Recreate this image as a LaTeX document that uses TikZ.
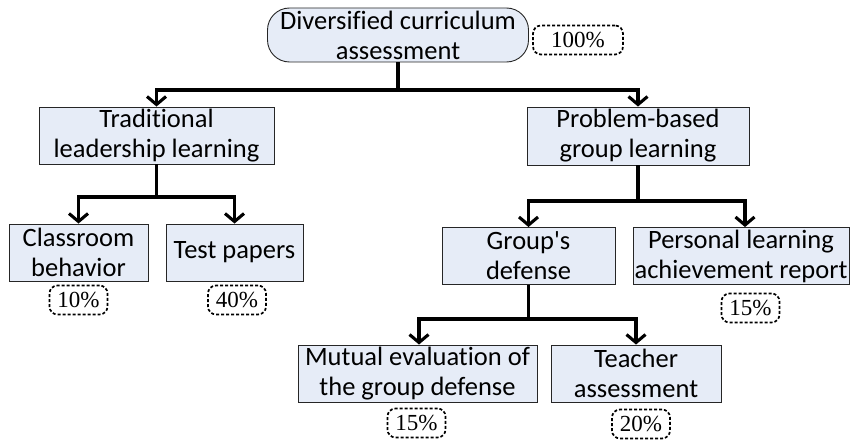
\documentclass[tikz,border=0pt]{standalone}
\usepackage{fontspec}
\setmainfont{Carlito}[Ligatures={NoCommon}]
\newfontfamily\pctfont{Liberation Serif}
\usetikzlibrary{arrows.meta}
\definecolor{boxfill}{HTML}{E6ECF7}
\begin{document}
\begin{tikzpicture}[x=1pt,y=-1pt,
  box/.style={draw=black!85, line width=0.9pt, fill=boxfill, align=center,
    inner sep=0pt, font=\fontsize{26.5}{30}\selectfont, minimum height=57pt},
  rootbox/.style={box, rounded corners=22pt, minimum width=261pt, minimum height=54pt},
  pct/.style={draw, dash pattern=on 3pt off 2pt, line width=1.7pt, rounded corners=8pt,
    minimum width=58pt, minimum height=29pt, inner sep=0pt,
    font=\pctfont\fontsize{23}{25}\selectfont},
  trunk/.style={line width=3.1pt},
  conn/.style={line width=3.1pt, -{Straight Barb[length=8pt,width=19pt]}}
]
\useasboundingbox (0,0) rectangle (851,441);

% nodes
\node[rootbox] (root) at (398,35) {Diversified curriculum\\assessment};
\node[pct, minimum width=90pt] (p100) at (578,40) {100\%};

\node[box, minimum width=235pt] (trad) at (156.5,135.5) {Traditional\\leadership learning};
\node[box, minimum width=222pt, minimum height=58pt] (prob) at (638,136) {Problem-based\\group learning};

\node[box, minimum width=139pt] (class) at (78.5,252.5) {Classroom\\behavior};
\node[box, minimum width=137pt] (test) at (234.5,252.5) {Test papers};
\node[pct] (p10) at (78.5,300) {10\%};
\node[pct] (p40) at (237,300) {40\%};

\node[box, minimum width=173pt] (group) at (528.5,256) {Group\textquotesingle s\\defense};
\node[box, minimum width=216pt] (pers) at (741,256) {Personal learning\\achievement report};
\node[pct] (p15a) at (750.5,308) {15\%};

\node[box, minimum width=239pt] (mutual) at (417.5,373.5) {Mutual evaluation of\\the group defense};
\node[box, minimum width=170pt] (teach) at (636,373.5) {Teacher\\assessment};
\node[pct] (p15b) at (416.5,423) {15\%};
\node[pct] (p20) at (641,424) {20\%};

% joints
\coordinate (rj) at (398,90);
\coordinate (tj) at (156.5,197);
\coordinate (pj) at (638,201);
\coordinate (gj) at (528.5,319);

% connectors
\draw[trunk] (root.south) -- (rj);
\draw[conn] (rj) -| (trad.north);
\draw[conn] (rj) -| (prob.north);

\draw[trunk] (trad.south) -- (tj);
\draw[conn] (tj) -| (class.north);
\draw[conn] (tj) -| (test.north);

\draw[trunk] (prob.south) -- (pj);
\draw[conn] (pj) -| (group.north);
\draw[conn] (pj) -| ([xshift=4pt]pers.north);

\draw[trunk] (group.south) -- (gj);
\draw[conn] (gj) -| ([xshift=1.5pt]mutual.north);
\draw[conn] (gj) -| (teach.north);
\end{tikzpicture}
\end{document}
